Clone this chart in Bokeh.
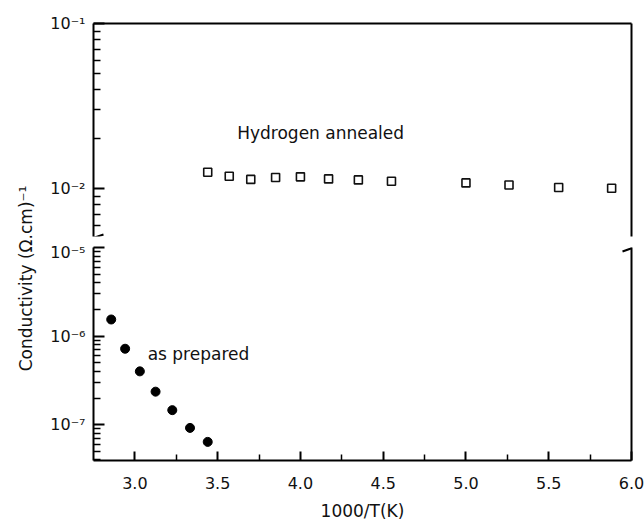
import math
from bokeh.plotting import figure
from bokeh.layouts import row, column
from bokeh.models import (Range1d, LinearAxis, FixedTicker, CustomJSTickFormatter,
                          NumeralTickFormatter, Label, Arrow)
from bokeh.embed import file_html
from bokeh.resources import INLINE

# ---------------- data ----------------
hyd_x = [3.44, 3.57, 3.70, 3.85, 4.00, 4.17, 4.35, 4.55, 5.00, 5.26, 5.56, 5.88]
hyd_y = [0.01254, 0.01187, 0.01135, 0.01166, 0.01176, 0.01143, 0.01127, 0.01107,
         0.01081, 0.01050, 0.01014, 0.01004]
prep_x = [2.857, 2.941, 3.030, 3.125, 3.226, 3.333, 3.44]
prep_y = [1.54e-6, 7.2e-7, 4.0e-7, 2.36e-7, 1.46e-7, 9.2e-8, 6.4e-8]

x_major = [3.0, 3.5, 4.0, 4.5, 5.0, 5.5, 6.0]
x_minor = [3.25, 3.75, 4.25, 4.75, 5.25, 5.75]
upper_major = [0.01, 0.1]
lower_major = [1e-7, 1e-6, 1e-5]

FONT = "DejaVu Sans"
FS = "16px"
FS_T = "17px"
TXT = "#111111"

X0, X1 = 2.75, 6.0
UP_LO, UP_HI = -2.291, -1.0
LO_LO, LO_HI = -7.404, -5.0
FW, FH = 538, 213
LABW = 45
BL = 93 - LABW

x_range = Range1d(X0, X1)
up_range = Range1d(10 ** UP_LO, 10 ** UP_HI)
lo_range = Range1d(10 ** LO_LO, 10 ** LO_HI)

sup_js = """
const sup = {"-":"\u207b","0":"\u2070","1":"\u00b9","2":"\u00b2","3":"\u00b3","4":"\u2074",
             "5":"\u2075","6":"\u2076","7":"\u2077","8":"\u2078","9":"\u2079"};
const e = Math.round(Math.log10(tick));
return "10" + String(e).split("").map(c => sup[c]).join("");
"""


def minors(lo_exp, hi_exp, vmin, vmax):
    vals = [m * 10.0 ** e for e in range(lo_exp, hi_exp) for m in range(2, 10)]
    return [v for v in vals if vmin <= v <= vmax]


def style_ticks(ax, tin, tmin):
    ax.axis_line_width = 2
    ax.major_tick_line_width = 2
    ax.minor_tick_line_width = 1.5
    ax.major_tick_line_color = "black"
    ax.minor_tick_line_color = "black"
    ax.major_tick_in = tin
    ax.major_tick_out = 0
    ax.minor_tick_in = tmin
    ax.minor_tick_out = 0
    ax.major_label_text_font = FONT
    ax.major_label_text_font_size = FS
    ax.major_label_text_color = TXT


def style_left(ax, major, minor):
    ax.ticker = FixedTicker(ticks=major, minor_ticks=minor)
    ax.formatter = CustomJSTickFormatter(code=sup_js)
    style_ticks(ax, 11, 7)
    ax.major_label_standoff = 8


def line_axis():
    ax = LinearAxis(ticker=FixedTicker(ticks=[], minor_ticks=[]))
    ax.axis_line_width = 2
    ax.major_tick_out = 0
    ax.minor_tick_out = 0
    ax.major_tick_in = 0
    ax.minor_tick_in = 0
    ax.major_label_standoff = 0
    ax.major_label_text_font_size = "0px"
    return ax


W = 644 - LABW
# ---------------- upper panel ----------------
up = figure(width=W, height=242, x_range=x_range, y_range=up_range,
            y_axis_type="log", x_axis_location=None,
            output_backend="svg", toolbar_location=None,
            min_border_left=BL, min_border_right=13, min_border_top=23, min_border_bottom=6)
up.outline_line_color = None
up.grid.visible = False
style_left(up.yaxis[0], upper_major, minors(-3, -1, 10 ** UP_LO, 10 ** UP_HI))
up.add_layout(line_axis(), "right")
up.add_layout(line_axis(), "above")
up.scatter(hyd_x, hyd_y, marker="square", size=8, fill_color="white",
           line_color="#111111", line_width=1.6)
up.add_layout(Label(x=3.618, y=10 ** (-2 + (188.3 - 133) / 165), text="Hydrogen annealed",
                    text_font=FONT, text_font_size=FS_T, text_color=TXT,
                    text_baseline="middle"))

# ---------------- lower panel ----------------
lo = figure(width=W, height=283, x_range=x_range, y_range=lo_range,
            y_axis_type="log", output_backend="svg", toolbar_location=None,
            min_border_left=BL, min_border_right=13, min_border_top=5, min_border_bottom=65)
lo.outline_line_color = None
lo.grid.visible = False
style_left(lo.yaxis[0], lower_major, minors(-8, -5, 10 ** LO_LO, 10 ** LO_HI))
lo.add_layout(line_axis(), "right")

xa = lo.xaxis[0]
xa.ticker = FixedTicker(ticks=x_major, minor_ticks=x_minor)
xa.formatter = NumeralTickFormatter(format="0.0")
style_ticks(xa, 9, 6)
xa.major_label_standoff = 16
xa.axis_label = "1000/T(K)"
xa.axis_label_text_font = FONT
xa.axis_label_text_font_size = FS_T
xa.axis_label_text_font_style = "normal"
xa.axis_label_text_color = TXT
xa.axis_label_standoff = 9
lo.scatter(prep_x, prep_y, marker="circle", size=9, fill_color="black", line_color="black")
lo.add_layout(Label(x=3.077, y=10 ** (-6 - (354 - 335.7) / 88.6), text="as prepared",
                    text_font=FONT, text_font_size=FS_T, text_color=TXT,
                    text_baseline="middle"))


# ---------------- axis-break marks (page px -> data) ----------------
def dx(px):
    return X0 + (px - 93) / FW * (X1 - X0)


def up_y(py):
    return 10 ** (UP_HI - (py - 23) / FH * (UP_HI - UP_LO))


def lo_y(py):
    return 10 ** (LO_HI - (py - 247) / FH * (LO_HI - LO_LO))


for (x0, y0, x1, y1) in [(85, 240, 103, 234), (622, 243, 640, 237)]:
    up.add_layout(Arrow(start=None, end=None, x_start=dx(x0), y_start=up_y(y0),
                        x_end=dx(x1), y_end=up_y(y1), line_width=2, line_color="black"))
for (x0, y0, x1, y1) in [(85, 249.5, 103, 243.5), (622, 251, 640, 244.5)]:
    lo.add_layout(Arrow(start=None, end=None, x_start=dx(x0), y_start=lo_y(y0),
                        x_end=dx(x1), y_end=lo_y(y1), line_width=2, line_color="black"))

# ---------------- y-axis title panel ----------------
lab = figure(width=LABW, height=525, x_range=Range1d(0, 1), y_range=Range1d(0, 1),
             output_backend="svg", toolbar_location=None, min_border=0,
             x_axis_location=None, y_axis_location=None)
lab.outline_line_color = None
lab.grid.visible = False
lab.add_layout(Label(x=25 / LABW, y=1 - 278 / 525, angle=math.pi / 2,
                     text="Conductivity (\u03a9.cm)\u207b\u00b9", text_font=FONT,
                     text_font_size=FS_T, text_color=TXT, text_align="center",
                     text_baseline="middle"))

layout = row(lab, column(up, lo))
open("out.html", "w").write(file_html(layout, INLINE))
